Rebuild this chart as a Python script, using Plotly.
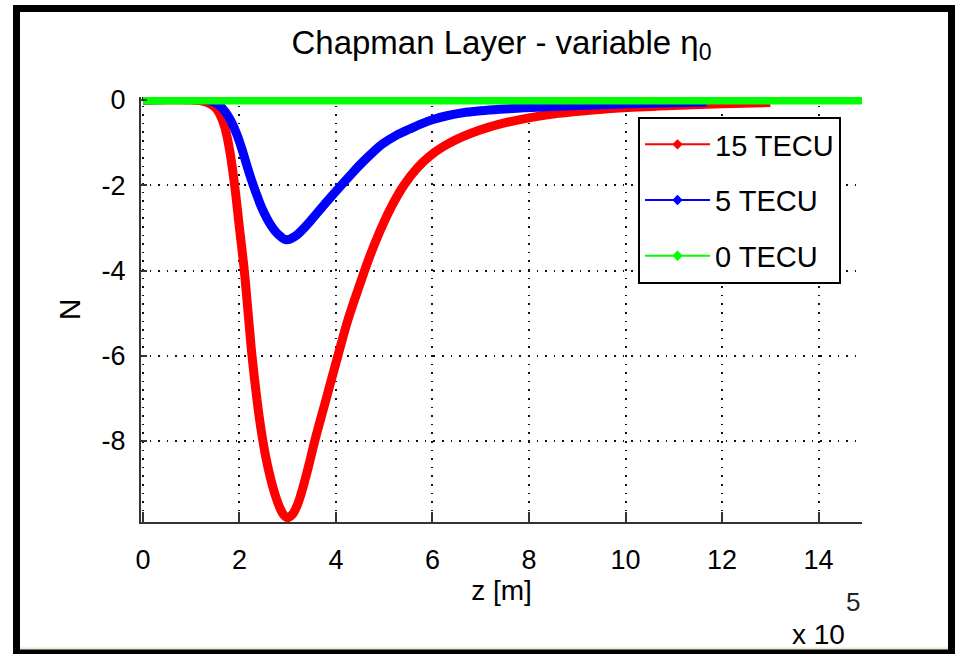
import plotly.graph_objects as go

# Altitude samples (units of 1e5 m) and normalised profile values N
z_15 = [0.0, 1.0, 1.2, 1.35, 1.5, 1.6, 1.7, 1.8, 1.9, 2.0, 2.1, 2.18, 2.26, 2.36,
        2.45, 2.55, 2.65, 2.75, 2.85, 2.93, 3.0, 3.1, 3.2, 3.3, 3.43, 3.56, 3.8,
        4.04, 4.25, 4.49, 4.7, 4.91, 5.15, 5.42, 5.68, 5.94, 6.2, 6.49, 6.8,
        7.12, 7.45, 7.81, 8.15, 8.5, 9.1, 9.87, 11.0, 12.0, 13.0]
n_15 = [0.0, 0.0, -0.02, -0.07, -0.18, -0.35, -0.65, -1.2, -2.0, -3.0, -4.0, -5.0,
        -6.0, -7.0, -7.75, -8.4, -8.9, -9.3, -9.6, -9.75, -9.8, -9.72, -9.5,
        -9.15, -8.6, -8.0, -7.0, -6.0, -5.15, -4.34, -3.67, -3.08, -2.5, -1.98,
        -1.6, -1.32, -1.11, -0.93, -0.78, -0.655, -0.55, -0.46, -0.39, -0.33,
        -0.26, -0.19, -0.13, -0.09, -0.06]

z_5 = [0.0, 1.3, 1.45, 1.55, 1.65, 1.75, 1.85, 1.95, 2.05, 2.15, 2.25, 2.35, 2.47,
       2.63, 2.8, 2.97, 3.15, 3.3, 3.5, 3.8, 4.11, 4.35, 4.56, 4.78, 4.98, 5.25,
       5.53, 5.77, 6.01, 6.3, 6.63, 7.0, 7.39, 7.9, 8.36, 9.5, 10.5, 11.68]
n_5 = [0.0, 0.0, -0.04, -0.1, -0.2, -0.35, -0.55, -0.82, -1.15, -1.52, -1.88, -2.2,
       -2.55, -2.9, -3.15, -3.28, -3.2, -3.05, -2.8, -2.4, -2.0, -1.7, -1.45,
       -1.21, -1.02, -0.83, -0.68, -0.56, -0.46, -0.37, -0.30, -0.255, -0.22,
       -0.185, -0.16, -0.11, -0.075, -0.05]

z_0 = [0.0, 14.9]
n_0 = [0.0, 0.0]

series = [
    ("15 TECU", z_15, n_15, "#ff0000"),
    ("5 TECU", z_5, n_5, "#0000ff"),
    ("0 TECU", z_0, n_0, "#00ff00"),
]

x_ticks = [0, 2, 4, 6, 8, 10, 12, 14]
y_ticks = [0, -2, -4, -6, -8]

FONT = "Liberation Sans, Arial, Helvetica, sans-serif"

fig = go.Figure()

# thick profile curves
for name, zs, ns, col in series:
    fig.add_trace(go.Scatter(
        x=zs, y=ns, mode="lines", name=name, legendgroup=name,
        showlegend=False,
        line=dict(color=col, width=9, shape="spline", smoothing=1.0, simplify=False),
        hoverinfo="x+y"))

# legend samples: thin line with point marker
for name, zs, ns, col in series:
    fig.add_trace(go.Scatter(
        x=[None], y=[None], mode="lines+markers", name=name, legendgroup=name,
        line=dict(color=col, width=2), marker=dict(color=col, size=8, symbol="diamond")))

# plot-area geometry in pixels
L, R, T, B = 141, 862, 97, 522
W, H = 957, 654
pw, ph = R - L, B - T

def px(xp):
    return (xp - L) / pw

def py(yp):
    return (B - yp) / ph

axis_common = dict(
    showline=True, linecolor="#333333", linewidth=2, mirror=False,
    showgrid=True, gridcolor="#111111", gridwidth=1.6, griddash="1.6px,7px",
    zeroline=False, ticks="inside", tickcolor="#333333", tickwidth=2,
    tickfont=dict(family=FONT, size=27, color="black"),
)

fig.update_xaxes(
    range=[-0.04, 14.9], tickvals=x_ticks, ticktext=[str(v) for v in x_ticks],
    ticklen=10, ticklabelstandoff=13,
    title=dict(text="z [m]", font=dict(family=FONT, size=28, color="black"), standoff=4),
    **axis_common)
fig.update_yaxes(
    range=[-9.9, 0.07], tickvals=y_ticks, ticktext=[str(v) for v in y_ticks],
    ticklen=6, ticklabelstandoff=8,
    title=dict(text="N", font=dict(family=FONT, size=30, color="black"), standoff=12),
    **axis_common)

# outer frame
frame_w = 7
shapes = [
    dict(type="rect", xref="paper", yref="paper",
         x0=px(16.5), x1=px(951.5), y0=py(652), y1=py(8.5),
         line=dict(color="black", width=frame_w), layer="above"),
    dict(type="line", xref="paper", yref="paper",
         x0=px(20), x1=px(948), y0=py(648.5), y1=py(648.5),
         line=dict(color="#ece9d8", width=2), layer="above"),
]

annotations = [
    dict(text="x 10", xref="paper", yref="paper", x=px(818), y=py(634),
         xanchor="center", yanchor="middle", showarrow=False,
         font=dict(family=FONT, size=28, color="black")),
    dict(text="5", xref="paper", yref="paper", x=px(853), y=py(602),
         xanchor="center", yanchor="middle", showarrow=False,
         font=dict(family=FONT, size=26, color="#222222")),
]

fig.update_layout(
    width=W, height=H,
    margin=dict(l=L, r=W - R, t=T, b=H - B),
    paper_bgcolor="white", plot_bgcolor="white",
    title=dict(text="Chapman Layer - variable η<sub>0</sub>",
               x=0.5, xref="paper", xanchor="center",
               y=1 - 42 / H, yref="container", yanchor="middle",
               font=dict(family=FONT, size=33, color="black")),
    legend=dict(x=px(638), y=py(117), xanchor="left", yanchor="top",
                bgcolor="white", bordercolor="black", borderwidth=2,
                font=dict(family=FONT, size=29, color="black"),
                tracegroupgap=15, itemwidth=65),
    shapes=shapes, annotations=annotations,
    showlegend=True,
)

fig.write_html("out.html")
